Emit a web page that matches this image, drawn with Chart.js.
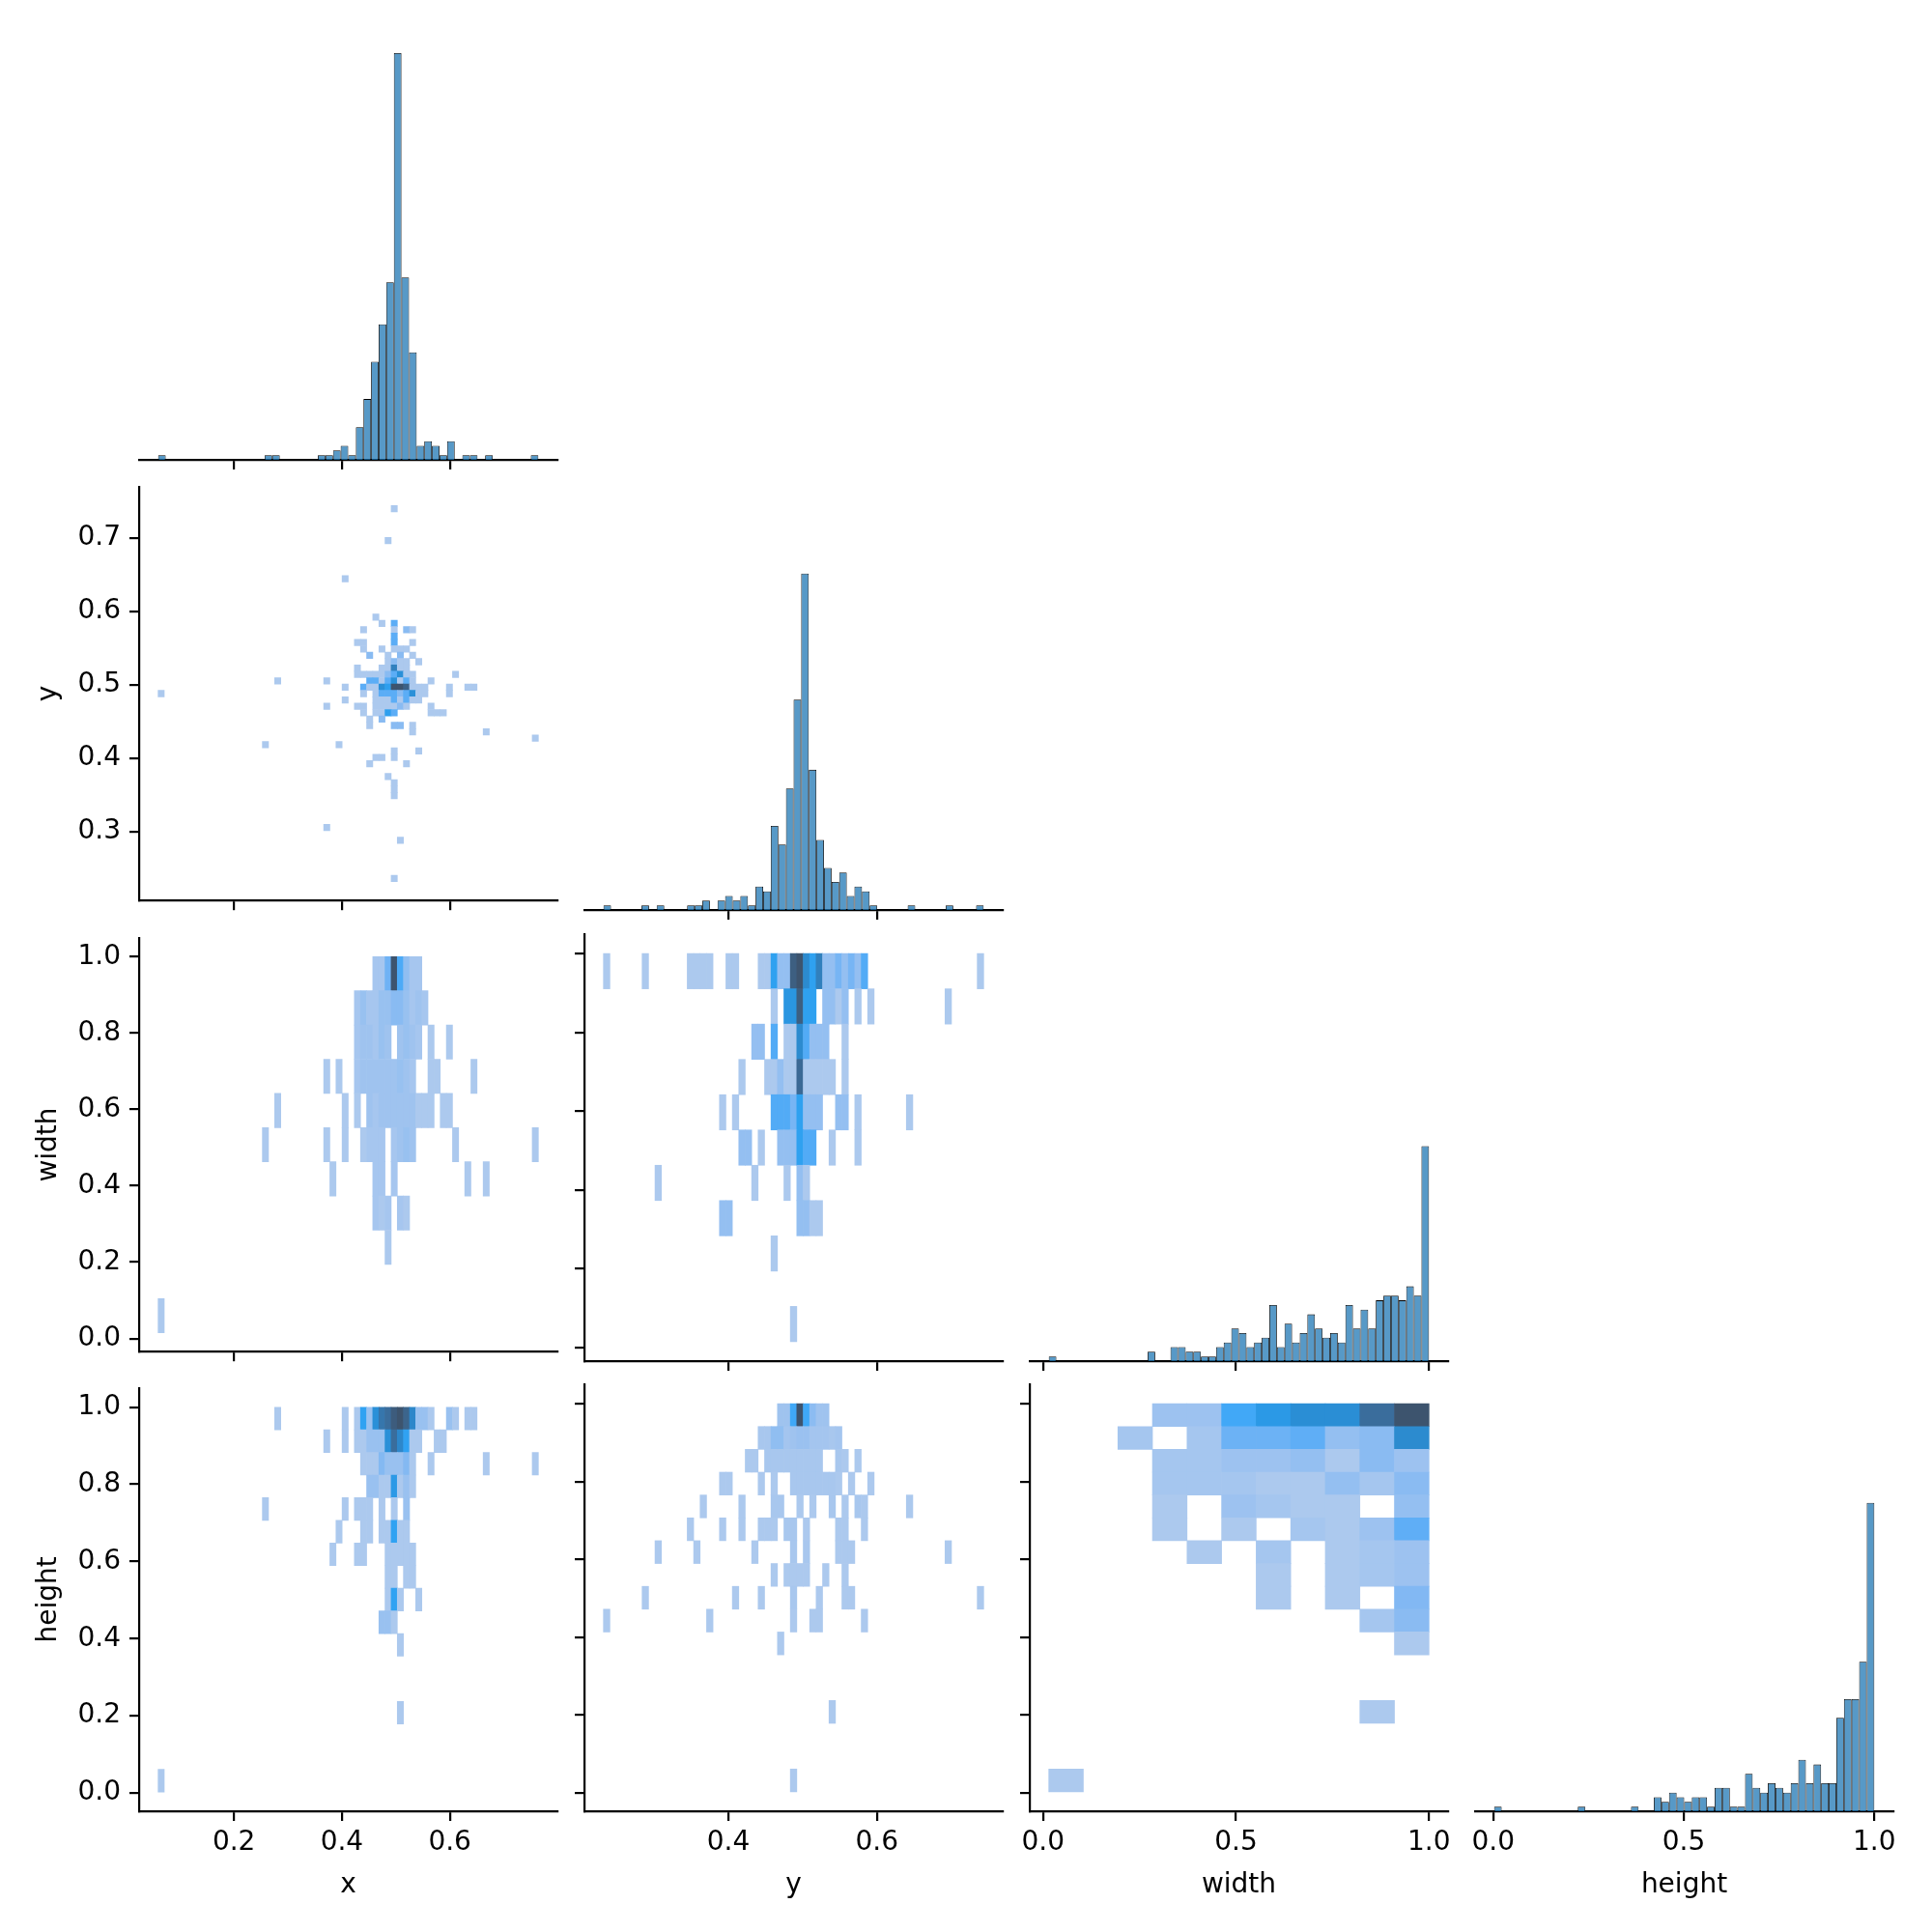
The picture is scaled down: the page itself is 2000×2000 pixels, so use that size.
<!DOCTYPE html>
<html>
<head>
<meta charset="utf-8">
<script src="https://cdn.jsdelivr.net/npm/chart.js@4.4.1/dist/chart.umd.min.js"></script>
<style>
  html, body { margin: 0; padding: 0; background: #fff; }
  #fig { position: relative; width: 2000px; height: 2000px; overflow: hidden; background: #fff; }
  #fig canvas { position: absolute; }
</style>
</head>
<body>
<div id="fig"></div>
<script>
// === DATA ===
const varNames = ["x", "y", "width", "height"];
const dataMin = [0.0596, 0.2316, 0.015, 0.0025];
const dataMax = [0.764, 0.744, 1.0, 1.0];
const diagBins = 50;
const pairBins = [62, 59, 11, 17];
const xTickVals = [[0.2, 0.4, 0.6], [0.4, 0.6], [0, 0.5, 1], [0, 0.5, 1]];
const yTickVals = [[], [0.3, 0.4, 0.5, 0.6, 0.7], [0, 0.2, 0.4, 0.6, 0.8, 1], [0, 0.2, 0.4, 0.6, 0.8, 1]];

// diagonal histograms (counts per bin, 50 bins each)
const xCounts = [1,0,0,0,0,0,0,0,0,0, 0,0,0,0,1,1,0,0,0,0, 0,1,1,2,3,1,7,13,21,29, 38,87,39,23,3,4,3,1,4,0, 1,1,0,1,0,0,0,0,0,1];
const yCounts = [1,0,0,0,0,1,0,1,0,0, 0,1,1,2,0,2,3,2,3,1, 5,4,18,14,26,45,72,30,15,9, 6,8,3,5,4,1,0,0,0,0, 1,0,0,0,0,1,0,0,0,1];
const widthCounts = [1,0,0,0,0,0,0,0,0,0, 0,0,0,2,0,0,3,3,2,2, 1,1,3,4,7,6,3,4,5,12, 3,8,4,6,10,7,5,6,4,12, 7,11,7,13,14,14,13,16,14,46];
const heightCounts = [1,0,0,0,0,0,0,0,0,0, 0,1,0,0,0,0,0,0,1,0, 0,3,2,4,3,2,3,3,1,5, 5,1,1,8,5,4,6,5,4,6, 11,6,10,6,6,20,24,24,32,66];

// bivariate histograms: [column bin, row bin, count]
const xyCells = [
  [38,58,1],[37,53,1],[30,47,1],[35,41,1],[36,40,1],[38,40,3],
  [33,39,1],[38,39,1],[40,39,2],[41,39,1],[38,38,3],
  [32,37,1],[33,37,1],[38,37,3],[41,37,1],
  [33,36,1],[36,36,1],[38,36,1],[39,36,1],[40,36,1],
  [34,35,2],[37,35,1],[39,35,2],[41,35,1],
  [37,34,1],[38,34,2],[39,34,1],[40,34,1],[42,34,1],
  [32,33,1],[36,33,1],[37,33,1],[38,33,6],[39,33,1],[40,33,1],
  [32,32,1],[33,32,1],[34,32,1],[35,32,1],[36,32,1],[37,32,2],[38,32,3],[39,32,5],[40,32,1],[41,32,1],[48,32,1],
  [19,31,1],[27,31,1],[34,31,3],[35,31,3],[36,31,1],[37,31,3],[38,31,5],[39,31,1],[40,31,3],[41,31,1],[44,31,1],
  [30,30,1],[33,30,3],[34,30,1],[35,30,1],[36,30,5],[37,30,4],[38,30,9],[39,30,9],[40,30,8],[41,30,1],[42,30,1],[43,30,1],[47,30,1],[50,30,1],[51,30,1],
  [0,29,1],[33,29,1],[35,29,1],[36,29,3],[37,29,3],[38,29,3],[39,29,2],[40,29,3],[41,29,5],[42,29,1],[43,29,1],[47,29,1],
  [30,28,1],[35,28,1],[36,28,1],[37,28,1],[38,28,3],[39,28,1],[40,28,3],[41,28,1],[42,28,1],
  [27,27,1],[32,27,1],[33,27,1],[35,27,1],[36,27,1],[37,27,1],[38,27,1],[39,27,2],[40,27,1],[44,27,1],
  [33,26,1],[35,26,1],[36,26,1],[37,26,4],[38,26,3],[44,26,1],[45,26,1],[46,26,1],
  [34,25,1],[36,25,2],[34,24,1],[38,24,2],[39,24,2],[41,24,1],
  [41,23,1],[53,23,1],[61,22,1],[17,21,1],[29,21,1],[38,20,1],[42,20,1],
  [35,19,1],[36,19,1],[38,19,1],[34,18,1],[40,18,1],
  [37,16,1],[38,15,1],[38,14,1],[38,13,1],[27,8,1],[39,6,1],[38,0,1]
];
const xwCells = [
  [35,10,2],[36,10,2],[37,10,9],[38,10,40],[39,10,12],[40,10,5],[41,10,2],[42,10,2],
  [32,9,2],[33,9,4],[34,9,2],[35,9,2],[36,9,4],[37,9,4],[38,9,6],[39,9,6],[40,9,4],[41,9,2],[42,9,3],[43,9,2],
  [32,8,2],[33,8,3],[34,8,3],[35,8,2],[36,8,4],[37,8,3],[39,8,3],[40,8,4],[41,8,3],[42,8,2],[44,8,1],[47,8,1],
  [27,7,1],[29,7,1],[32,7,2],[33,7,3],[34,7,3],[35,7,3],[36,7,3],[37,7,3],[38,7,3],[39,7,4],[40,7,3],[41,7,2],[44,7,1],[45,7,1],[51,7,1],
  [19,6,1],[30,6,1],[32,6,1],[34,6,3],[35,6,2],[36,6,3],[37,6,3],[38,6,3],[39,6,3],[40,6,3],[41,6,3],[42,6,1],[43,6,1],[44,6,1],[46,6,1],[47,6,1],
  [17,5,1],[27,5,1],[30,5,1],[33,5,1],[34,5,2],[35,5,2],[36,5,2],[38,5,2],[39,5,3],[40,5,4],[41,5,3],[48,5,1],[61,5,1],
  [28,4,1],[35,4,2],[36,4,2],[38,4,2],[50,4,1],[53,4,1],
  [35,3,2],[36,3,1],[37,3,2],[39,3,2],[40,3,1],[37,2,1],[0,0,1]
];
const ywCells = [
  [0,10,1],[6,10,1],[13,10,1],[14,10,1],[15,10,1],[16,10,1],[19,10,1],[20,10,1],[24,10,1],[25,10,1],[26,10,5],[27,10,2],[28,10,2],[29,10,11],[30,10,12],[31,10,7],[32,10,5],[33,10,8],[34,10,2],[35,10,2],[36,10,3],[37,10,2],[38,10,3],[39,10,2],[40,10,4],[58,10,1],
  [26,9,1],[28,9,6],[29,9,6],[30,9,11],[31,9,5],[32,9,5],[34,9,2],[35,9,2],[36,9,1],[37,9,2],[39,9,1],[41,9,1],[53,9,1],
  [23,8,2],[24,8,2],[26,8,4],[28,8,1],[29,8,1],[30,8,7],[31,8,4],[32,8,2],[33,8,2],[34,8,2],[37,8,1],
  [21,7,1],[25,7,1],[26,7,1],[27,7,2],[28,7,1],[29,7,1],[30,7,10],[31,7,1],[32,7,1],[33,7,1],[34,7,1],[35,7,1],[37,7,1],
  [18,6,1],[20,6,1],[26,6,4],[27,6,4],[28,6,4],[29,6,3],[30,6,5],[31,6,2],[32,6,2],[33,6,2],[36,6,2],[37,6,2],[39,6,1],[47,6,1],
  [21,5,2],[22,5,2],[24,5,1],[27,5,2],[28,5,2],[29,5,2],[30,5,5],[31,5,4],[32,5,4],[35,5,1],[39,5,1],
  [8,4,1],[23,4,1],[28,4,1],[30,4,2],[31,4,1],
  [18,3,2],[19,3,2],[30,3,2],[31,3,2],[32,3,1],[33,3,1],[26,2,1],[29,0,1]
];
const xhCells = [
  [19,16,1],[30,16,1],[32,16,1],[33,16,6],[34,16,2],[35,16,8],[36,16,11],[37,16,12],[38,16,14],[39,16,15],[40,16,13],[41,16,9],[42,16,2],[43,16,2],[44,16,1],[47,16,2],[48,16,1],[50,16,1],[51,16,1],
  [27,15,1],[30,15,1],[32,15,1],[33,15,1],[34,15,2],[35,15,2],[36,15,2],[37,15,8],[38,15,12],[39,15,9],[40,15,6],[41,15,1],[42,15,1],[45,15,1],[46,15,1],
  [33,14,1],[34,14,1],[35,14,1],[36,14,3],[37,14,2],[38,14,2],[39,14,2],[40,14,3],[41,14,1],[44,14,1],[53,14,1],[61,14,1],
  [34,13,2],[35,13,2],[36,13,1],[37,13,1],[38,13,7],[39,13,1],[40,13,2],[41,13,1],
  [17,12,1],[30,12,1],[32,12,1],[33,12,1],[34,12,1],[36,12,1],[38,12,1],[40,12,2],
  [29,11,1],[33,11,1],[34,11,1],[36,11,1],[37,11,1],[38,11,6],[39,11,1],[40,11,1],
  [28,10,1],[32,10,1],[33,10,1],[37,10,1],[38,10,1],[39,10,1],[40,10,1],[41,10,1],
  [37,9,1],[38,9,1],[40,9,1],[41,9,1],[37,8,1],[38,8,6],[39,8,1],[42,8,1],
  [36,7,2],[37,7,2],[38,7,1],[39,6,1],[39,3,1],[0,0,1]
];
const yhCells = [
  [27,16,4],[28,16,4],[29,16,19],[30,16,60],[31,16,19],[32,16,8],[33,16,4],[34,16,4],
  [24,15,2],[25,15,2],[26,15,7],[27,15,7],[28,15,3],[29,15,4],[30,15,5],[31,15,5],[32,15,3],[33,15,3],[34,15,3],[35,15,2],[36,15,3],
  [22,14,1],[23,14,1],[25,14,2],[26,14,2],[27,14,2],[28,14,2],[29,14,2],[30,14,2],[31,14,2],[32,14,2],[33,14,2],[36,14,2],[37,14,1],[39,14,1],
  [18,13,1],[19,13,1],[24,13,1],[26,13,1],[29,13,2],[30,13,2],[31,13,2],[32,13,2],[33,13,2],[34,13,2],[35,13,2],[36,13,1],[38,13,1],[41,13,1],
  [15,12,1],[21,12,1],[26,12,2],[27,12,2],[30,12,1],[32,12,1],[35,12,2],[37,12,1],[39,12,2],[40,12,1],[47,12,1],
  [13,11,1],[18,11,1],[21,11,1],[24,11,1],[25,11,1],[26,11,1],[28,11,2],[29,11,2],[31,11,1],[36,11,1],[37,11,1],[40,11,1],
  [8,10,1],[14,10,1],[23,10,1],[29,10,2],[31,10,2],[36,10,1],[37,10,1],[38,10,1],[53,10,1],
  [26,9,1],[28,9,1],[29,9,1],[30,9,1],[31,9,1],[34,9,1],[37,9,1],
  [6,8,1],[20,8,1],[24,8,1],[29,8,2],[33,8,1],[37,8,1],[38,8,1],[58,8,1],
  [0,7,1],[16,7,1],[29,7,1],[32,7,1],[33,7,1],[40,7,1],[27,6,1],[35,3,1],[29,0,1]
];
const whCells = [
  [3,16,3],[4,16,3],[5,16,11],[6,16,15],[7,16,18],[8,16,18],[9,16,27],[10,16,34],
  [2,15,2],[4,15,2],[5,15,8],[6,15,8],[7,15,9],[8,15,4],[9,15,5],[10,15,19],
  [3,14,2],[4,14,2],[5,14,3],[6,14,3],[7,14,4],[8,14,1],[9,14,5],[10,14,3],
  [3,13,2],[4,13,2],[5,13,2],[6,13,1],[7,13,1],[8,13,4],[9,13,2],[10,13,5],
  [3,12,1],[5,12,3],[6,12,2],[7,12,1],[8,12,1],[10,12,4],
  [3,11,1],[5,11,1],[7,11,2],[8,11,1],[9,11,3],[10,11,9],
  [4,10,1],[6,10,2],[8,10,1],[9,10,2],[10,10,3],
  [6,9,1],[8,9,1],[9,9,2],[10,9,3],[6,8,1],[8,8,1],[10,8,6],
  [9,7,2],[10,7,5],[10,6,1],[9,3,1],[0,0,1]
];

// === LAYOUT ===
const FONT = "DejaVu Sans";
const COL_LEFT = [144, 605, 1066, 1527], AX_W = 433;
const ROW_TOP = [34, 500, 967, 1433], AX_H = 442;
const fig = document.getElementById("fig");

const limits = dataMin.map((lo, i) => {
    const span = dataMax[i] - lo;
    return [lo - 0.05 * span, dataMax[i] + 0.05 * span];
});
const diagTop = 1.05 * Math.max(...xCounts, ...yCounts, ...widthCounts, ...heightCounts);

// === SEABORN-STYLE COLORMAP (husl ramp of C0) ===
const HM = [[3.2406, -1.5372, -0.4986], [-0.9689, 1.8758, 0.0415], [0.0557, -0.2040, 1.0570]];
const HM_INV = [[0.4124, 0.3576, 0.1805], [0.2126, 0.7152, 0.0722], [0.0193, 0.1192, 0.9505]];
const REF_U = 0.19784, REF_V = 0.46834, LAB_E = 0.008856, LAB_K = 903.3;

function maxChroma(L, H) {
    const hrad = H * Math.PI / 180, sinH = Math.sin(hrad), cosH = Math.cos(hrad);
    const sub1 = Math.pow(L + 16, 3) / 1560896;
    const sub2 = sub1 > LAB_E ? sub1 : L / LAB_K;
    let result = Infinity;
    for (const [m1, m2, m3] of HM) {
        const top = (0.99915 * m1 + 1.05122 * m2 + 1.14460 * m3) * sub2;
        const rbottom = 0.86330 * m3 - 0.17266 * m2;
        const lbottom = 0.12949 * m3 - 0.38848 * m1;
        const bottom = (rbottom * sinH + lbottom * cosH) * sub2;
        for (const t of [0, 1]) {
            const C = L * (top - 1.05122 * t) / (bottom + 0.17266 * sinH * t);
            if (C > 0 && C < result) result = C;
        }
    }
    return result;
}

function huslToRgb(H, S, L) {
    if (L > 99.9999999) return [1, 1, 1];
    if (L < 1e-8) return [0, 0, 0];
    const C = maxChroma(L, H) / 100 * S;
    const hrad = H * Math.PI / 180;
    const U = Math.cos(hrad) * C, V = Math.sin(hrad) * C;
    const fy = (L + 16) / 116;
    const Y = Math.pow(fy, 3) > LAB_E ? Math.pow(fy, 3) : (116 * fy - 16) / LAB_K;
    const varU = U / (13 * L) + REF_U, varV = V / (13 * L) + REF_V;
    const X = -(9 * Y * varU) / ((varU - 4) * varV - varU * varV);
    const Z = (9 * Y - 15 * varV * Y - varV * X) / (3 * varV);
    return HM.map(r => r[0] * X + r[1] * Y + r[2] * Z)
        .map(c => c <= 0.0031308 ? 12.92 * c : 1.055 * Math.pow(c, 1 / 2.4) - 0.055)
        .map(c => Math.min(1, Math.max(0, c)));
}

function rgbToHusl(r, g, b) {
    const lin = [r, g, b].map(c => c > 0.04045 ? Math.pow((c + 0.055) / 1.055, 2.4) : c / 12.92);
    const [X, Y, Z] = HM_INV.map(row => row[0] * lin[0] + row[1] * lin[1] + row[2] * lin[2]);
    const d = X + 15 * Y + 3 * Z;
    const fY = Y > LAB_E ? Math.cbrt(Y) : 7.787 * Y + 16 / 116;
    const L = 116 * fY - 16;
    const U = 13 * L * (4 * X / d - REF_U), V = 13 * L * (9 * Y / d - REF_V);
    let H = Math.atan2(V, U) * 180 / Math.PI;
    if (H < 0) H += 360;
    return [H, Math.hypot(U, V) / maxChroma(L, H) * 100, L];
}

const [baseH, baseS] = rgbToHusl(31 / 255, 119 / 255, 180 / 255);
function cmapColor(t) {
    const k = 255 - Math.min(255, Math.max(0, Math.floor(t * 256)));
    const S = baseS * Math.cos(-1 + 2 * k / 293);
    const L = 35 + 45 * k / 255;
    const [r, g, b] = huslToRgb(baseH, S, L);
    return `rgb(${Math.round(r * 255)},${Math.round(g * 255)},${Math.round(b * 255)})`;
}

// === CHART HELPERS ===
function axisOpts(which, lim, ticks, labelled, title, size) {
    return {
        type: "linear",
        position: which === "x" ? "bottom" : "left",
        min: lim[0], max: lim[1], offset: false,
        afterBuildTicks: s => { s.ticks = ticks.map(v => ({ value: v })); },
        afterFit: s => { if (which === "x") s.height = size; else s.width = size; },
        grid: { display: true, drawOnChartArea: false, drawTicks: true, tickLength: 10, tickWidth: 2.2,
                tickColor: "#000", color: "#000", lineWidth: 2.2, offset: false },
        border: { display: true, color: "#000", width: 2.2 },
        ticks: { display: labelled, color: "#000", padding: which === "x" ? 6 : 9, autoSkip: false, maxRotation: 0,
                 font: { family: FONT, size: 28 }, callback: v => Number(v).toFixed(1) },
        title: { display: labelled, text: title, color: "#000", font: { family: FONT, size: 28 },
                 padding: which === "x" ? { top: 0, bottom: 31 } : { top: 34, bottom: 0 } }
    };
}

function makePanel(row, col, dataset, diag) {
    const bottomRow = row === 3;
    const yLabels = col === 0 && !diag;
    const padL = yLabels ? COL_LEFT[0] : 22, padT = 22, padR = 32;
    const padB = bottomRow ? 2000 - (ROW_TOP[3] + AX_H) : 16;
    const cv = document.createElement("canvas");
    cv.width = padL + AX_W + padR;
    cv.height = padT + AX_H + padB;
    cv.style.left = (COL_LEFT[col] - padL) + "px";
    cv.style.top = (ROW_TOP[row] - padT) + "px";
    cv.style.width = cv.width + "px";
    cv.style.height = cv.height + "px";
    fig.appendChild(cv);

    new Chart(cv, {
        type: "bar",
        data: { datasets: [dataset] },
        options: {
            responsive: false, animation: false, devicePixelRatio: 1, events: [],
            layout: { padding: { left: diag ? padL : 0, top: padT, right: padR, bottom: 0 } },
            plugins: { legend: { display: false }, tooltip: { enabled: false } },
            scales: {
                x: axisOpts("x", limits[col], xTickVals[col], bottomRow, varNames[col], padB),
                y: diag ? { display: false, min: 0, max: diagTop }
                        : axisOpts("y", limits[row], yTickVals[row], yLabels, varNames[row], padL)
            }
        }
    });
}

function histDataset(v, counts) {
    const w = (dataMax[v] - dataMin[v]) / diagBins;
    return {
        data: counts.map((c, k) => ({ x: dataMin[v] + (k + 0.5) * w, y: c })),
        backgroundColor: "rgba(31,119,180,0.75)",
        borderColor: "#000", borderWidth: 0.8,
        barPercentage: 1, categoryPercentage: 1, inflateAmount: 0
    };
}

function pairDataset(vx, vy, cells) {
    const wx = (dataMax[vx] - dataMin[vx]) / pairBins[vx];
    const wy = (dataMax[vy] - dataMin[vy]) / pairBins[vy];
    const counts = cells.map(c => c[2]);
    const vmin = Math.min(...counts), vmax = Math.max(...counts);
    return {
        data: cells.map(([i, j]) => ({ x: dataMin[vx] + (i + 0.5) * wx,
                                       y: [dataMin[vy] + j * wy, dataMin[vy] + (j + 1) * wy] })),
        backgroundColor: cells.map(([, , c]) => cmapColor(vmax > vmin ? (c - vmin) / (vmax - vmin) : 0)),
        borderWidth: 0, barPercentage: 1, categoryPercentage: 1
    };
}

// === RENDER ===
Chart.defaults.font.family = FONT;
const diagCounts = [xCounts, yCounts, widthCounts, heightCounts];
diagCounts.forEach((counts, v) => makePanel(v, v, histDataset(v, counts), true));

makePanel(1, 0, pairDataset(0, 1, xyCells), false);
makePanel(2, 0, pairDataset(0, 2, xwCells), false);
makePanel(2, 1, pairDataset(1, 2, ywCells), false);
makePanel(3, 0, pairDataset(0, 3, xhCells), false);
makePanel(3, 1, pairDataset(1, 3, yhCells), false);
makePanel(3, 2, pairDataset(2, 3, whCells), false);
</script>
</body>
</html>
